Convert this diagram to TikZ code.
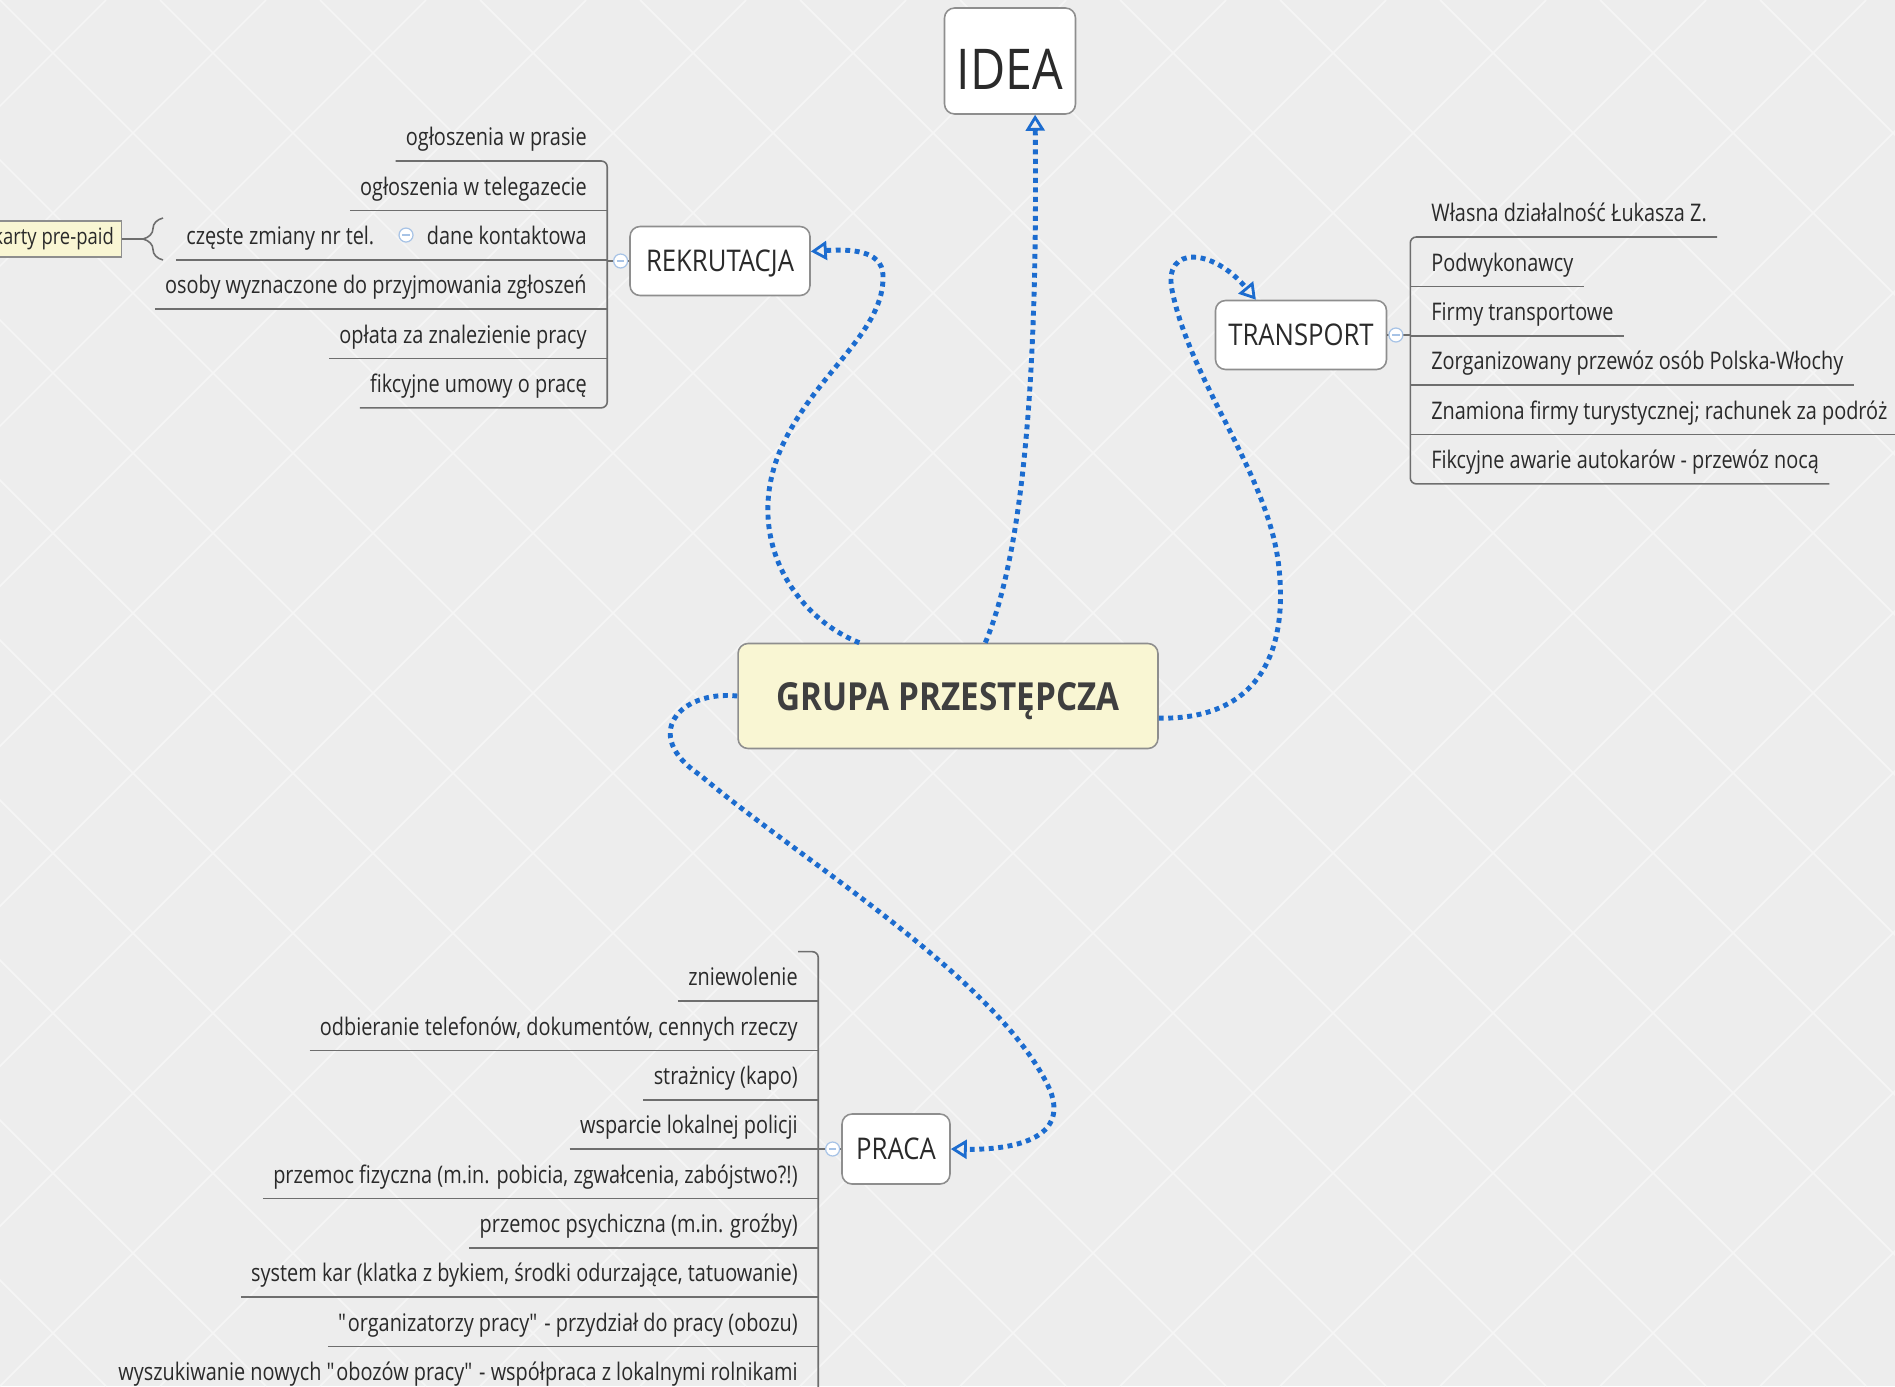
\documentclass[tikz,border=0pt]{standalone}
\usepackage{fontspec}
\setmainfont{Open Sans}[FakeStretch=0.86]
\newfontfamily\leaffamily{Open Sans}[FakeStretch=0.82]
\usetikzlibrary{arrows.meta,positioning,decorations.pathreplacing}
\definecolor{bggray}{HTML}{EDEDED}
\definecolor{bgline}{HTML}{F5F5F5}
\definecolor{linkblue}{HTML}{1C6CCF}
\definecolor{foldblue}{HTML}{A7C3E6}
\definecolor{rootfill}{HTML}{F9F6D3}
\definecolor{boxline}{HTML}{8E8E8E}
\definecolor{branchgray}{HTML}{6E6E6E}
\definecolor{ink}{HTML}{2A2A2A}
\tikzset{
>={Triangle[open,length=3.2mm,width=3.8mm,line width=1.6pt]},
	root/.style={
		rectangle,
		rounded corners=0.2cm,
		fill=rootfill,
		draw=boxline, line width=0.9pt,
		text=ink!90,
		font=\fontsize{22}{24}\selectfont\bfseries,
		text height=16.5pt, text depth=0pt,
		minimum width=8.4cm,
		minimum height=2.1cm},
	topic/.style={
		rectangle,
		rounded corners=0.2cm,
		fill=white,
		draw=boxline, line width=0.9pt,
		text=ink,
		font=\fontsize{17}{20}\selectfont,
		text height=12.1pt, text depth=0pt,
		minimum height=1.38cm},
	leaf/.style={
		inner xsep=0.2cm, inner ysep=0pt,
		text height=19.2pt, text depth=8.5pt,
		text=ink,
		font=\leaffamily\fontsize{13.8}{16}\selectfont},
	note/.style={
		rectangle,
		fill=rootfill,
		draw=boxline, line width=0.8pt,
		inner xsep=0.15cm,
		minimum height=0.72cm,
		text=ink,
		font=\leaffamily\fontsize{12.8}{15}\selectfont},
	branch/.style={draw=branchgray, line width=0.9pt},
	fold/.style={
		circle, draw=foldblue, fill=white, line width=0.7pt,
		minimum size=0.28cm, inner sep=0pt,
		path picture={\draw[foldblue, line width=0.7pt]
			([xshift=-2.2pt]path picture bounding box.center) --
			([xshift=2.2pt]path picture bounding box.center);}},
	link/.style={
		draw=linkblue, line width=2.8pt,
		dash pattern=on 2.8pt off 2.6pt, ->}
}

\begin{document}
\begin{tikzpicture}[x=0.02cm, y=-0.02cm]
\useasboundingbox (0,0) rectangle (1895,1386);
% background
\fill[bggray] (0,0) rectangle (1895,1386);
\begin{scope}
\clip (0,0) rectangle (1895,1386);
\foreach \k in {-1440,-1280,...,1920} {
	\draw[bgline, line width=1pt] (\k,0) -- ++(1386,1386);
	\draw[bgline, line width=1pt] (\k+1386,0) -- ++(-1386,1386);
}
\end{scope}

% main topics
\node[root] (grp) at (948,696) {GRUPA PRZESTĘPCZA};
\node[topic, minimum width=2.62cm, minimum height=2.12cm,
	font=\fontsize{32}{36}\selectfont, text height=31.9pt] (idea) at (1010,61) {IDEA};
\node[topic, minimum width=3.6cm] (rek) at (720,261) {REKRUTACJA};
\node[topic, minimum width=3.42cm] (trans) at (1301,335) {TRANSPORT};
\node[topic, minimum width=2.16cm, minimum height=1.4cm] (prc) at (896,1149) {PRACA};

% REKRUTACJA
\coordinate (rekbar) at ([xshift=-0.44cm]rek.west);
\node[leaf, anchor=south east] (r1) at (597,161) {ogłoszenia w prasie};
\node[leaf, below=0pt of r1.south east, anchor=north east] (r2) {ogłoszenia w telegazecie};
\node[leaf, below=0pt of r2.south east, anchor=north east] (r3) {dane kontaktowa};
\node[leaf, below=0pt of r3.south east, anchor=north east] (r4) {osoby wyznaczone do przyjmowania zgłoszeń};
\node[leaf, below=0pt of r4.south east, anchor=north east] (r5) {opłata za znalezienie pracy};
\node[leaf, below=0pt of r5.south east, anchor=north east] (r6) {fikcyjne umowy o pracę};
\node[leaf, left=0.64cm of r3] (r3a) {częste zmiany nr tel.};
\node[fold, left=0.06cm of r3] (r3fold) {};
\coordinate (bracetip) at (143,239);
\node[note, anchor=east] (karty) at (122,239) {karty pre-paid};
\draw[branch, rounded corners=0.12cm] (r1.south west) -- (r1.south west -| rekbar)
	-- (r6.south west -| rekbar) -- (r6.south west);
\foreach \n in {r2,r4,r5}
	\draw[branch] (\n.south west) -- (\n.south west -| rekbar);
\draw[branch] (r3a.south west) -- (r3a.south west -| rekbar);
\draw[branch] (rek.west) -- (rekbar);
\node[fold, left=0.02cm of rek] (rekfold) {};
\draw[branch, decorate, decoration={brace, amplitude=0.4cm}]
	(163,260) -- (163,218);
\draw[branch] (karty) -- (bracetip);

% TRANSPORT
\coordinate (tbar) at ([xshift=0.46cm]trans.east);
\node[leaf, anchor=south west] (t1) at (1421,237) {Własna działalność Łukasza Z.};
\node[leaf, below=0pt of t1.south west, anchor=north west] (t2) {Podwykonawcy};
\node[leaf, below=0pt of t2.south west, anchor=north west] (t3) {Firmy transportowe};
\node[leaf, below=0pt of t3.south west, anchor=north west] (t4) {Zorganizowany przewóz osób Polska-Włochy};
\node[leaf, below=0pt of t4.south west, anchor=north west] (t5) {Znamiona firmy turystycznej; rachunek za podróż};
\node[leaf, below=0pt of t5.south west, anchor=north west] (t6) {Fikcyjne awarie autokarów - przewóz nocą};
\draw[branch, rounded corners=0.12cm] (t1.south east) -- (tbar |- t1.south)
	-- (tbar |- t6.south) -- (t6.south east);
\foreach \n in {t2,t3,t4,t5}
	\draw[branch] (tbar |- \n.south) -- (\n.south east);
\draw[branch] (trans.east) -- (tbar);
\node[fold, right=0.02cm of trans] (transfold) {};

% PRACA
\coordinate (pbar) at ([xshift=-0.46cm]prc.west);
\node[leaf, anchor=south east] (p1) at (808,1001) {zniewolenie};
\node[leaf, below=0pt of p1.south east, anchor=north east] (p2) {odbieranie telefonów, dokumentów, cennych rzeczy};
\node[leaf, below=0pt of p2.south east, anchor=north east] (p3) {strażnicy (kapo)};
\node[leaf, below=0pt of p3.south east, anchor=north east] (p4) {wsparcie lokalnej policji};
\node[leaf, below=0pt of p4.south east, anchor=north east] (p5) {przemoc fizyczna (m.in. pobicia, zgwałcenia, zabójstwo?!)};
\node[leaf, below=0pt of p5.south east, anchor=north east] (p6) {przemoc psychiczna (m.in. groźby)};
\node[leaf, below=0pt of p6.south east, anchor=north east] (p7) {system kar (klatka z bykiem, środki odurzające, tatuowanie)};
\node[leaf, below=0pt of p7.south east, anchor=north east] (p8) {\textquotedbl organizatorzy pracy\textquotedbl{} - przydział do pracy (obozu)};
\node[leaf, below=0pt of p8.south east, anchor=north east] (p9) {wyszukiwanie nowych \textquotedbl obozów pracy\textquotedbl{} - współpraca z lokalnymi rolnikami};
\coordinate (ptop) at (p1.north -| pbar);
\draw[branch, rounded corners=0.12cm] ([xshift=-0.4cm]ptop) -- (ptop)
	-- (p9.south -| pbar) -- (p9.south west);
\foreach \n in {p1,p2,p3,p4,p5,p6,p7,p8}
	\draw[branch] (\n.south west) -- (\n.south west -| pbar);
\draw[branch] (prc.west) -- (pbar);
\node[fold, left=0.02cm of prc] (prcfold) {};

% relations
\draw[link] (grp.149.5) .. controls (790,615) and (740,530) .. (785,440)
	.. controls (820,370) and (885,330) .. (883,275)
	.. controls (882,250) and (850,249) .. (rek.6);
\draw[link] (grp.55) .. controls (1020,560) and (1038,400) .. (idea.-65);
\draw[link] (grp.-6) .. controls (1260,720) and (1290,650) .. (1278,560)
	.. controls (1265,470) and (1190,380) .. (1172,290)
	.. controls (1163,245) and (1213,248) .. (trans.142);
\draw[link] (grp.west) .. controls (680,690) and (640,735) .. (700,775)
	.. controls (800,860) and (1000,980) .. (1050,1090)
	.. controls (1070,1140) and (1010,1150) .. (prc.east);
\end{tikzpicture}
\end{document}
